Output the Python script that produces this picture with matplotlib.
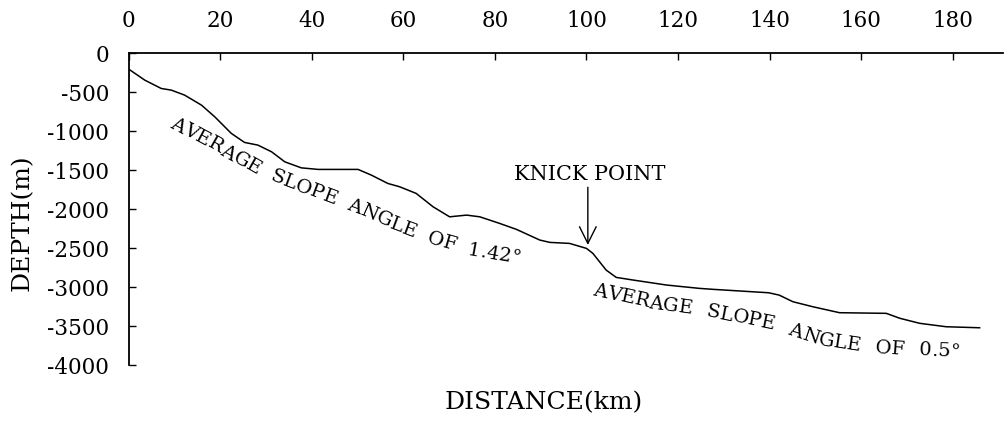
import numpy as np
import matplotlib
matplotlib.use('Agg')
import matplotlib.pyplot as plt

plt.rcParams['font.family'] = 'DejaVu Serif'
plt.rcParams['axes.unicode_minus'] = False

# profile
distance_km = [0, 3.5, 7.1, 9.3, 12.2, 15.9, 18.8, 22.4, 25.3, 28.2, 31.2, 34.1,
               37.7, 41.4, 50.1, 53.0, 56.6, 59.2, 62.8, 66.5, 70.1, 73.8, 76.7,
               81.0, 84.7, 89.8, 92.0, 96.3, 100.0, 101.4, 104.3, 106.5, 110.2,
               117.5, 124.7, 127.6, 139.8, 142.1, 145.1, 149.5, 155.3, 165.5,
               168.5, 172.8, 178.6, 185.9]
depth_m = [-205, -346, -453, -474, -538, -667, -817, -1029, -1145, -1179, -1265,
           -1394, -1471, -1491, -1491, -1564, -1671, -1714, -1799, -1971, -2099,
           -2077, -2099, -2183, -2260, -2397, -2427, -2440, -2504, -2568, -2782,
           -2876, -2910, -2974, -3017, -3029, -3073, -3103, -3188, -3253, -3329,
           -3337, -3401, -3465, -3509, -3522]
x_ticks = [0, 20, 40, 60, 80, 100, 120, 140, 160, 180]
y_ticks = [0, -500, -1000, -1500, -2000, -2500, -3000, -3500, -4000]

label_steep = 'AVERAGE SLOPE ANGLE OF 1.42°'
label_flat = 'AVERAGE SLOPE ANGLE OF 0.5°'


def curved_text(ax, text, px, py, fontsize, track=1.0):
    # lay characters one by one along a guide line (data coords)
    fig = ax.figure
    fig.canvas.draw()
    r = fig.canvas.get_renderer()
    pts = ax.transData.transform(np.column_stack([px, py]))
    seg = np.hypot(*np.diff(pts, axis=0).T)
    cum = np.concatenate([[0], np.cumsum(seg)])
    widths = []
    for ch in text:
        if ch == ' ':
            widths.append(0.0)
            continue
        t = ax.text(0, 0, ch, fontsize=fontsize)
        widths.append(t.get_window_extent(r).width * track)
        t.remove()
    widths = np.array(widths)
    n_sp = text.count(' ')
    left = cum[-1] - widths.sum()
    if left > 0:
        widths[[c == ' ' for c in text]] = left / n_sp
    else:
        widths *= cum[-1] / widths.sum()
    starts = np.concatenate([[0], np.cumsum(widths)[:-1]])
    inv = ax.transData.inverted()
    for ch, s0, w in zip(text, starts, widths):
        if ch == ' ':
            continue
        s = s0 + w / 2
        i = min(np.searchsorted(cum, s) - 1, len(seg) - 1)
        i = max(i, 0)
        f = (s - cum[i]) / seg[i]
        p = pts[i] + f * (pts[i + 1] - pts[i])
        d = pts[i + 1] - pts[i]
        ang = np.degrees(np.arctan2(d[1], d[0]))
        xd, yd = inv.transform(p)
        ax.text(xd, yd, ch, fontsize=fontsize, rotation=ang,
                rotation_mode='anchor', ha='center', va='center')


fig = plt.figure(figsize=(10.06, 4.22), dpi=100)
ax = fig.add_axes([0.128, 0.135, 0.869, 0.739])

ax.plot(distance_km, depth_m, color='black', lw=1.1)

ax.set_xlim(0, 191)
ax.set_ylim(-4000, 0)
ax.set_xticks(x_ticks)
ax.set_yticks(y_ticks)
ax.xaxis.tick_top()
ax.tick_params(axis='x', direction='in', length=5, width=1, pad=15, labelsize=15.5)
ax.tick_params(axis='y', direction='in', length=5, width=1, pad=14, labelsize=15.5)
for side in ['right', 'bottom']:
    ax.spines[side].set_visible(False)
for side in ['left', 'top']:
    ax.spines[side].set_linewidth(1.3)

ax.set_ylabel('DEPTH(m)', fontsize=18)
ax.yaxis.label.set_va('center')
ax.yaxis.set_label_coords(-0.122, 0.455)
ax.set_xlabel('DISTANCE(km)', fontsize=18)
ax.xaxis.set_label_position('bottom')
ax.xaxis.label.set_va('center')
ax.xaxis.set_label_coords(0.475, -0.122)

ax.text(100.7, -1550, 'KNICK POINT', fontsize=15, ha='center', va='center')
ax.annotate('', xy=(100.3, -2460), xytext=(100.3, -1720),
            arrowprops=dict(arrowstyle='->', color='black', lw=1.0,
                            mutation_scale=30, shrinkA=0, shrinkB=0))

curved_text(ax, label_steep,
            [9.4, 18.8, 29.1, 39.6, 49.5, 58.2, 67.0, 74.6, 85.5],
            [-885, -1180, -1525, -1756, -1974, -2205, -2397, -2526, -2640], 14)
curved_text(ax, label_flat,
            [101.5, 114.0, 124.9, 133.7, 141.4, 151.2, 161.1, 170.9, 181.5],
            [-3038, -3205, -3295, -3397, -3487, -3679, -3769, -3808, -3833], 14)

fig.savefig('out.png', dpi=100)
